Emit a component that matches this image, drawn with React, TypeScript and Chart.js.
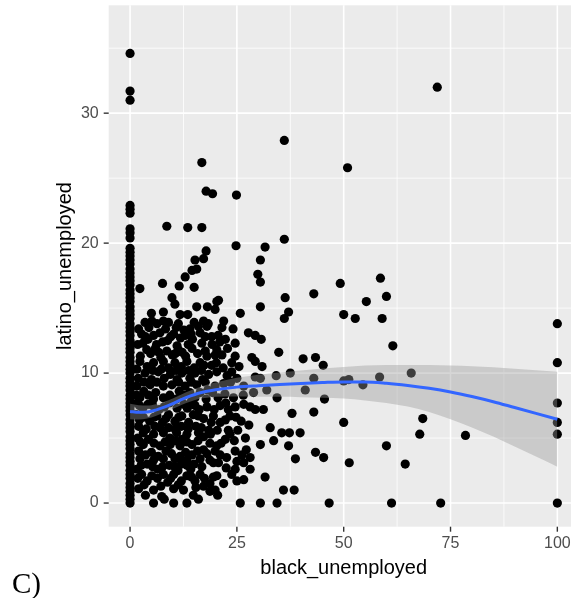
import { useEffect, useRef } from 'react';
import { Chart, registerables } from 'chart.js';

Chart.register(...registerables);

// Axis breaks
const X_MAJOR = [0, 25, 50, 75, 100];
const X_MINOR = [12.5, 37.5, 62.5, 87.5];
const Y_MAJOR = [0, 10, 20, 30];
const Y_MINOR = [5, 15, 25, 35];

// Counties with no Black unemployment: latino_unemployed values stacked at x = 0
const ZERO_COLUMN_Y = [
  0, 0.3, 0.6, 0.9, 1.2, 1.5, 1.9, 2.2, 2.5, 2.9, 3.2, 3.5, 3.8, 4.2, 4.5, 4.8,
  5.1, 5.5, 5.8, 6.1, 6.4, 6.8, 7.1, 7.4, 7.7, 8.0, 8.3, 8.7, 9.0, 9.3, 9.6, 10.0,
  10.3, 10.6, 10.9, 11.2, 11.6, 11.9, 12.2, 12.5, 12.9, 13.2, 13.5, 13.8, 14.2,
  14.5, 14.8, 15.1, 15.5, 15.8, 16.1, 16.4, 16.8, 17.1, 17.4, 17.7, 18.0, 18.4,
  18.7, 19.0, 19.3, 19.6, 20.4, 20.8, 21.1, 22.3, 22.6, 22.9, 31.0, 31.7, 34.6,
];

// Counties at 100% Black unemployment
const HUNDRED_COLUMN_Y = [0, 5.3, 6.2, 7.7, 10.8, 13.8];

// [black_unemployed, latino_unemployed] for the upper part of the cloud (y > 14)
const UPPER_CLOUD: [number, number][] = [
  [2.3, 16.5], [7.6, 16.9], [11.5, 16.7], [15.0, 16.6], [9.8, 15.8], [10.5, 15.3],
  [15.6, 15.1], [18.1, 15.1], [20.3, 15.5], [11.7, 14.5], [12.9, 17.4], [14.5, 17.9],
  [15.6, 18.0], [15.2, 18.7], [17.2, 18.8], [17.8, 19.4], [8.6, 21.3], [13.5, 21.2],
  [16.8, 21.2], [17.8, 24.0], [19.3, 23.8], [16.8, 26.2], [5.0, 14.6], [7.8, 14.7],
  [13.5, 14.5], [24.9, 23.7], [24.8, 19.8], [31.6, 19.7], [36.1, 20.3], [30.5, 18.7],
  [29.9, 17.6], [30.5, 17.0], [43.0, 16.1], [49.2, 16.9], [58.6, 17.3], [60.0, 15.9],
  [55.3, 15.5], [36.3, 15.8], [20.7, 15.6], [37.1, 14.7], [36.1, 14.2], [30.5, 15.1],
  [25.8, 14.6], [19.9, 14.9], [17.2, 14.0], [21.9, 14.0], [50.0, 14.5], [52.7, 14.2],
  [59.0, 14.2], [61.5, 12.1], [36.1, 27.9], [50.9, 25.8], [71.9, 32.0],
];

// Middle band of the cloud (7 < y <= 14)
const MIDDLE_CLOUD: [number, number][] = [
  [3.5, 13.9], [5.1, 14.0], [6.3, 13.8], [7.8, 14.0], [9.0, 13.9], [11.3, 13.8], [15.0, 13.9],
  [18.3, 13.8], [2.0, 13.4], [12.6, 13.3], [21.5, 13.5], [24.1, 13.4], [18.0, 13.6],
  [4.4, 13.5], [8.3, 13.4], [10.8, 13.5], [14.0, 13.4], [16.0, 13.6],
  [2.7, 13.0], [5.5, 12.9], [7.0, 13.1], [10.2, 13.0], [12.9, 12.9], [16.4, 13.1], [19.1, 12.8],
  [27.7, 13.1], [4.2, 12.6], [8.8, 12.5], [14.6, 12.6], [22.3, 12.6], [29.3, 12.9], [30.7, 12.6],
  [3.6, 12.8], [9.5, 12.8], [11.8, 12.7], [14.3, 13.0], [17.6, 12.8], [20.6, 12.9],
  [1.8, 12.2], [6.2, 12.2], [11.0, 12.1], [16.8, 12.3], [24.6, 12.3],
  [3.0, 12.3], [7.6, 12.4], [13.6, 12.2], [19.2, 12.2], [21.0, 12.4],
  [3.9, 11.8], [5.9, 11.9], [8.6, 11.7], [11.3, 11.8], [14.5, 11.9], [17.6, 11.7], [20.3, 11.8],
  [4.8, 11.5], [6.7, 11.6], [10.6, 11.5], [12.2, 11.6], [15.8, 11.5], [21.5, 11.4], [22.8, 11.9],
  [34.8, 11.6], [2.4, 11.3], [7.2, 11.2], [9.9, 11.4], [13.0, 11.3], [18.0, 11.3], [19.9, 11.4],
  [24.6, 11.3], [28.5, 11.2], [40.5, 11.1], [43.4, 11.2],
  [2.3, 10.9], [5.5, 10.8], [7.8, 10.9], [10.5, 10.8], [13.3, 10.9], [16.4, 10.8], [20.2, 10.8],
  [23.8, 10.8], [29.3, 10.9], [4.0, 10.5], [9.0, 10.4], [12.0, 10.5], [15.0, 10.4], [17.3, 10.6],
  [19.1, 10.6], [30.9, 10.5], [45.2, 10.6],
  [1.6, 10.3], [5.3, 10.2], [7.3, 10.3], [10.8, 10.2], [13.7, 10.2], [16.7, 10.2], [21.8, 10.4],
  [25.5, 10.5],
  [3.5, 10.0], [6.6, 10.1], [9.4, 9.9], [12.1, 10.0], [15.2, 10.0], [18.4, 9.9], [20.3, 10.1],
  [23.8, 10.1], [34.2, 9.8], [37.5, 10.0], [1.9, 9.6], [5.0, 9.5], [8.0, 9.6], [11.0, 9.5],
  [14.0, 9.6], [17.0, 9.5], [22.7, 9.8], [29.3, 9.7], [30.5, 9.6], [43.0, 9.6],
  [3.3, 9.3], [6.3, 9.3], [11.4, 9.3], [14.4, 9.3], [17.6, 9.3], [23.5, 9.3], [25.0, 9.6],
  [1.6, 9.0], [4.7, 9.1], [7.8, 9.0], [9.8, 9.1], [12.9, 9.0], [15.6, 9.1], [19.9, 9.0],
  [21.9, 9.2], [26.6, 9.0], [50.0, 9.4], [51.2, 9.5], [54.5, 9.1], [58.4, 9.7], [65.8, 10.0],
  [3.2, 8.6], [6.0, 8.5], [11.5, 8.6], [14.0, 8.5], [16.4, 8.5], [18.2, 8.7], [28.9, 8.5],
  [32.0, 8.7], [41.0, 8.7], [2.3, 8.1], [5.5, 8.0], [7.8, 8.1], [10.8, 8.0], [15.2, 8.1],
  [1.5, 8.3], [4.3, 8.3], [9.3, 8.3], [12.6, 8.3], [19.3, 8.5], [22.2, 8.4], [26.5, 8.3],
  [17.8, 8.0], [20.6, 8.1], [24.2, 8.1], [34.4, 8.1], [45.5, 8.0],
  [1.7, 7.7], [4.2, 7.6], [9.2, 7.7], [12.6, 7.6], [14.3, 7.8], [22.4, 7.7],
  [2.2, 7.5], [5.3, 7.5], [8.0, 7.4], [13.4, 7.3], [15.2, 7.5], [19.7, 7.2], [26.6, 7.6],
  [3.0, 7.3], [6.8, 7.2], [11.0, 7.3], [16.2, 7.2], [18.0, 7.4], [21.1, 7.5], [23.0, 7.2],
  [24.6, 7.4], [28.1, 7.4], [29.3, 7.2], [31.2, 7.2],
];

// Lower part of the cloud (y <= 7)
const LOWER_CLOUD: [number, number][] = [
  [37.9, 6.9], [43.0, 7.0], [1.5, 6.8], [3.1, 6.6], [6.3, 6.7], [9.0, 6.8], [12.1, 6.7],
  [14.8, 6.8], [19.5, 6.7], [23.4, 6.7], [4.6, 6.3], [7.6, 6.2], [10.5, 6.3], [13.7, 6.2],
  [17.2, 6.5], [21.1, 6.2], [26.0, 6.3], [50.0, 6.2], [68.5, 6.5],
  [2.2, 6.4], [5.6, 6.6], [8.4, 6.5], [11.4, 6.6], [16.0, 6.7], [19.0, 6.2], [22.3, 6.4], [24.8, 6.6],
  [2.0, 5.9], [5.8, 5.9], [9.0, 5.8], [12.0, 5.9], [15.4, 5.9], [18.4, 5.6], [23.0, 5.6],
  [3.8, 5.7], [7.0, 5.8], [10.5, 5.7], [13.6, 5.7], [16.7, 5.8], [20.4, 5.6], [25.2, 5.6], [27.8, 6.0],
  [32.8, 5.8], [3.1, 5.4], [5.5, 5.3], [7.8, 5.4], [10.9, 5.4], [13.3, 5.3], [16.0, 5.4],
  [18.8, 5.3], [23.4, 5.3], [35.5, 5.4], [37.3, 5.4], [39.8, 5.4], [67.8, 5.3], [78.5, 5.2],
  [1.8, 5.0], [4.3, 4.9], [9.3, 5.0], [12.2, 4.9], [17.2, 5.1], [22.3, 4.9], [27.0, 5.0],
  [2.4, 4.7], [5.6, 4.6], [8.2, 4.7], [10.6, 4.8], [13.3, 4.7], [15.9, 4.8], [21.3, 4.6], [24.4, 4.8],
  [33.6, 4.8], [3.1, 4.5], [7.0, 4.4], [9.4, 4.5], [11.7, 4.4], [14.5, 4.5], [18.7, 4.6],
  [20.3, 4.4], [30.5, 4.5], [37.1, 4.4], [60.0, 4.4],
  [2.0, 4.0], [5.0, 3.9], [8.4, 4.0], [13.0, 3.9], [15.8, 4.0], [17.2, 4.1], [18.0, 3.8],
  [19.9, 4.0], [21.1, 3.7], [24.6, 4.0], [26.2, 3.7], [43.4, 3.9],
  [3.6, 3.7], [6.6, 3.6], [9.7, 3.8], [11.7, 3.6], [14.5, 3.7], [22.6, 3.5], [27.2, 4.1],
  [2.3, 3.4], [5.5, 3.3], [7.8, 3.4], [10.5, 3.4], [13.3, 3.3], [16.4, 3.4], [18.7, 3.3],
  [25.0, 3.2], [28.1, 3.5], [38.7, 3.4], [45.3, 3.5], [4.0, 3.0], [9.2, 2.9], [12.0, 3.0],
  [15.0, 3.0], [19.5, 3.1], [20.7, 3.1], [26.6, 3.1], [51.3, 3.1], [64.4, 3.0],
  [2.6, 2.9], [5.3, 2.8], [7.6, 2.8], [10.4, 2.8], [13.3, 2.9], [16.8, 2.8], [22.5, 2.7], [24.6, 2.6],
  [1.6, 2.6], [6.5, 2.6], [11.2, 2.5], [14.2, 2.6], [28.1, 2.6],
  [2.7, 2.2], [5.1, 2.1], [7.8, 2.2], [10.2, 2.2], [13.3, 2.1], [16.4, 2.2], [19.5, 2.0],
  [1.8, 1.9], [6.4, 1.9], [9.5, 1.9], [14.4, 2.0], [17.4, 1.9], [20.3, 2.1],
  [23.8, 2.2], [31.6, 2.0], [4.0, 1.7], [8.8, 1.6], [12.0, 1.7], [15.2, 1.7], [18.7, 1.5],
  [21.9, 1.5], [25.0, 1.7], [26.6, 1.8], [2.0, 1.1], [5.5, 1.0], [10.2, 1.1], [12.5, 1.0],
  [3.3, 1.4], [7.2, 1.3], [11.3, 1.4], [15.4, 1.2], [19.9, 1.0],
  [17.2, 1.3], [35.9, 1.0], [38.4, 1.0], [3.6, 0.6], [7.4, 0.5], [14.8, 0.6], [18.7, 0.9],
  [20.5, 0.6], [8.0, 0.3], [16.0, 0.3],
  [5.5, 0], [10.2, 0], [13.3, 0], [25.8, 0], [30.5, 0], [34.4, 0], [46.6, 0],
  [61.2, 0], [72.7, 0],
];

// Loess fit with its confidence band
const SMOOTH_X = [0, 2, 4, 6, 8, 10, 12, 14, 16, 18, 20, 25, 30, 35, 40, 45, 50, 55, 60, 65, 70, 75, 80, 85, 90, 95, 100];
const SMOOTH_Y = [7.05, 6.98, 7.0, 7.15, 7.38, 7.65, 7.95, 8.22, 8.45, 8.6, 8.72, 8.92, 9.03, 9.12, 9.2, 9.27, 9.32, 9.32, 9.22, 9.05, 8.83, 8.55, 8.2, 7.8, 7.35, 6.9, 6.45];
const BAND_UPPER = [7.65, 7.53, 7.5, 7.6, 7.8, 8.05, 8.35, 8.64, 8.9, 9.1, 9.27, 9.64, 9.88, 10.04, 10.2, 10.35, 10.47, 10.58, 10.62, 10.63, 10.62, 10.58, 10.52, 10.44, 10.33, 10.22, 10.1];
const BAND_LOWER = [6.45, 6.43, 6.5, 6.7, 6.96, 7.25, 7.55, 7.8, 8.0, 8.1, 8.17, 8.2, 8.18, 8.17, 8.15, 8.1, 8.05, 7.9, 7.7, 7.42, 7.0, 6.45, 5.82, 5.12, 4.35, 3.58, 2.8];

const TICK_FONT = { family: '"Liberation Sans", Arial, Helvetica, sans-serif', size: 16 };
const TITLE_FONT = { family: '"Liberation Sans", Arial, Helvetica, sans-serif', size: 20 };

const panelPlugin = {
  id: 'ggPanel',
  beforeDatasetsDraw(chart: any) {
    const { ctx, chartArea: a, scales } = chart;
    const x = scales.x;
    const y = scales.y;
    ctx.save();
    ctx.fillStyle = '#EBEBEB';
    ctx.fillRect(a.left, a.top, a.right - a.left, a.bottom - a.top);
    ctx.strokeStyle = '#FFFFFF';
    const vline = (v: number, w: number) => {
      const p = x.getPixelForValue(v);
      ctx.lineWidth = w;
      ctx.beginPath();
      ctx.moveTo(p, a.top);
      ctx.lineTo(p, a.bottom);
      ctx.stroke();
    };
    const hline = (v: number, w: number) => {
      const p = y.getPixelForValue(v);
      ctx.lineWidth = w;
      ctx.beginPath();
      ctx.moveTo(a.left, p);
      ctx.lineTo(a.right, p);
      ctx.stroke();
    };
    X_MINOR.forEach((v) => vline(v, 0.8));
    Y_MINOR.forEach((v) => hline(v, 0.8));
    X_MAJOR.forEach((v) => vline(v, 1.6));
    Y_MAJOR.forEach((v) => hline(v, 1.6));
    // tick marks
    ctx.strokeStyle = '#333333';
    ctx.lineWidth = 1.4;
    X_MAJOR.forEach((v) => {
      const p = x.getPixelForValue(v);
      ctx.beginPath();
      ctx.moveTo(p, a.bottom);
      ctx.lineTo(p, a.bottom + 5);
      ctx.stroke();
    });
    Y_MAJOR.forEach((v) => {
      const p = y.getPixelForValue(v);
      ctx.beginPath();
      ctx.moveTo(a.left - 5, p);
      ctx.lineTo(a.left, p);
      ctx.stroke();
    });
    ctx.restore();
  },
  afterDraw(chart: any) {
    const { ctx } = chart;
    ctx.save();
    ctx.fillStyle = '#000000';
    ctx.font = '29px "Liberation Serif", "Times New Roman", serif';
    ctx.textAlign = 'left';
    ctx.textBaseline = 'alphabetic';
    ctx.fillText('C)', 12, 593);
    ctx.restore();
  },
};

export default function App() {
  const canvasRef = useRef<HTMLCanvasElement | null>(null);

  useEffect(() => {
    if (!canvasRef.current) return;
    const points = [
      ...ZERO_COLUMN_Y.map((v) => ({ x: 0, y: v })),
      ...HUNDRED_COLUMN_Y.map((v) => ({ x: 100, y: v })),
      ...UPPER_CLOUD.map(([bx, ly]) => ({ x: bx, y: ly })),
      ...MIDDLE_CLOUD.map(([bx, ly]) => ({ x: bx, y: ly })),
      ...LOWER_CLOUD.map(([bx, ly]) => ({ x: bx, y: ly })),
    ];
    const toXY = (ys: number[]) => SMOOTH_X.map((v, i) => ({ x: v, y: ys[i] }));

    const chart = new Chart(canvasRef.current, {
      type: 'scatter',
      data: {
        datasets: [
          {
            label: 'counties',
            data: points,
            pointRadius: 4.6,
            pointHoverRadius: 4.6,
            pointBackgroundColor: '#000000',
            pointBorderWidth: 0,
            borderWidth: 0,
            showLine: false,
            order: 4,
          },
          {
            label: 'lower',
            data: toXY(BAND_LOWER),
            showLine: true,
            pointRadius: 0,
            borderWidth: 0,
            borderColor: 'rgba(0,0,0,0)',
            cubicInterpolationMode: 'monotone',
            fill: false,
            order: 3,
          },
          {
            label: 'upper',
            data: toXY(BAND_UPPER),
            showLine: true,
            pointRadius: 0,
            borderWidth: 0,
            borderColor: 'rgba(0,0,0,0)',
            backgroundColor: 'rgba(153,153,153,0.4)',
            cubicInterpolationMode: 'monotone',
            fill: '-1',
            order: 2,
          },
          {
            label: 'loess',
            data: toXY(SMOOTH_Y),
            showLine: true,
            pointRadius: 0,
            borderWidth: 3,
            borderColor: '#3366FF',
            cubicInterpolationMode: 'monotone',
            fill: false,
            order: 1,
          },
        ],
      } as any,
      options: {
        animation: false,
        responsive: false,
        events: [],
        layout: { padding: { top: 5.3, right: 21.3, bottom: 0, left: 0 } },
        plugins: {
          legend: { display: false },
          tooltip: { enabled: false },
        },
        scales: {
          x: {
            type: 'linear',
            min: -5,
            max: 105,
            grid: { display: false, drawTicks: false },
            border: { display: false },
            afterBuildTicks: (scale: any) => {
              scale.ticks = X_MAJOR.map((v) => ({ value: v }));
            },
            afterFit: (scale: any) => {
              scale.height = 71.3;
              scale.paddingLeft = 0;
              scale.paddingRight = 0;
            },
            ticks: {
              color: '#4D4D4D',
              font: TICK_FONT,
              padding: 7,
              autoSkip: false,
              maxRotation: 0,
            },
            title: {
              display: true,
              text: 'black_unemployed',
              color: '#000000',
              font: TITLE_FONT,
              padding: { top: 0, bottom: 17.5 },
            },
          },
          y: {
            type: 'linear',
            min: -1.82,
            max: 38.3,
            grid: { display: false, drawTicks: false },
            border: { display: false },
            afterBuildTicks: (scale: any) => {
              scale.ticks = Y_MAJOR.map((v) => ({ value: v }));
            },
            afterFit: (scale: any) => {
              scale.width = 108.7;
              scale.paddingTop = 0;
              scale.paddingBottom = 0;
            },
            ticks: {
              color: '#4D4D4D',
              font: TICK_FONT,
              padding: 10,
              autoSkip: false,
            },
            title: {
              display: true,
              text: 'latino_unemployed',
              color: '#000000',
              font: TITLE_FONT,
              padding: { top: 53, bottom: 0 },
            },
          },
        },
      } as any,
      plugins: [panelPlugin],
    });
    return () => chart.destroy();
  }, []);

  return (
    <div
      style={{
        position: 'fixed',
        left: 0,
        top: 0,
        width: 571,
        height: 598,
        overflow: 'hidden',
        background: '#FFFFFF',
      }}
    >
      <canvas ref={canvasRef} width={600} height={598} style={{ display: 'block' }} />
    </div>
  );
}
